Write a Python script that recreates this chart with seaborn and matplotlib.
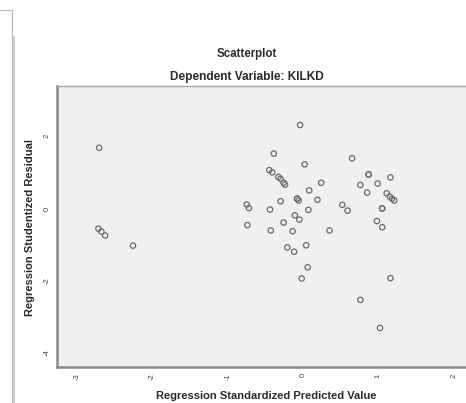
import matplotlib
matplotlib.use("Agg")
import matplotlib.pyplot as plt
import seaborn as sns
import pandas as pd
from matplotlib.lines import Line2D

# --- data ---
pred_left = [-2.71, -2.72, -2.68, -2.63, -2.26]
resid_left = [1.68, -0.56, -0.64, -0.75, -1.03]

pred_mid = [-0.04, -0.39, 0.02, -0.45, -0.41, -0.33, -0.30, -0.26, -0.24, 0.24,
            0.08, -0.08, -0.06, -0.08, -0.30, 0.19, -0.75, -0.72, -0.44, 0.07,
            -0.74, -0.26, -0.11, -0.05, -0.43, -0.14, 0.35, -0.21, -0.12, 0.04,
            0.06, -0.02]
resid_mid = [2.31, 1.52, 1.22, 1.06, 1.00, 0.87, 0.82, 0.71, 0.66, 0.71,
             0.50, 0.27, 0.22, 0.27, 0.20, 0.24, 0.11, 0.01, -0.03, -0.04,
             -0.46, -0.39, -0.19, -0.31, -0.61, -0.63, -0.61, -1.08, -1.20, -1.02,
             -1.63, -1.94]

pred_right = [0.65, 0.87, 0.87, 1.16, 0.76, 0.99, 0.85, 1.11, 1.15, 1.18,
              1.21, 0.52, 0.59, 1.05, 1.05, 0.98, 1.05, 1.16, 0.76, 1.02]
resid_right = [1.39, 0.94, 0.94, 0.86, 0.65, 0.69, 0.44, 0.42, 0.33, 0.27,
               0.22, 0.10, -0.06, 0.00, 0.00, -0.35, -0.52, -1.93, -2.53, -3.31]

x_ticks = [-3, -2, -1, 0, 1, 2]
y_ticks = [-4, -2, 0, 2]

df = pd.DataFrame({
    "pred": pred_left + pred_mid + pred_right,
    "resid": resid_left + resid_mid + resid_right,
})

sns.set_style("white")
plt.rcParams["font.family"] = ["Liberation Sans", "DejaVu Sans"]
plt.rcParams["axes.unicode_minus"] = False

W, H = 466, 403
fig = plt.figure(figsize=(W / 100, H / 100), dpi=100)
fig.patch.set_facecolor("white")

# axes box in pixel coords: left 57, right 468, top 86, bottom 367
ax = fig.add_axes([57 / W, 1 - 367 / H, (468 - 57) / W, (367 - 86) / H])
ax.set_facecolor("#f0f0f0")

sns.scatterplot(data=df, x="pred", y="resid", ax=ax, s=15, marker="o",
                edgecolor="#6a6a6a", linewidth=0.9, legend=False)
for coll in ax.collections:
    coll.set_facecolor("none")

ax.set_xlim(-3.27, 2.19)
ax.set_ylim(-4.39, 3.39)
ax.set_xticks(x_ticks)
ax.set_yticks(y_ticks)
ax.set_xticklabels([str(t) for t in x_ticks], rotation=90)
ax.set_yticklabels([str(t) for t in y_ticks], rotation=90, va="center")
ax.tick_params(axis="both", which="major", direction="out", length=3.5,
               width=0.8, color="#707070", labelsize=5.5, labelcolor="#444444", pad=1)

for side in ["left", "bottom"]:
    ax.spines[side].set_color("#8a8a8a")
    ax.spines[side].set_linewidth(1.8)
ax.spines["top"].set_color("#a8a8a8")
ax.spines["top"].set_linewidth(1.0)
ax.spines["right"].set_visible(False)

ax.set_xlabel("")
ax.set_ylabel("")

fig.text(247 / W, 1 - 54 / H, "Scatterplot", ha="center", va="center",
         fontsize=8.3, fontweight="bold", color="#2a2a2a")
fig.text(247 / W, 1 - 77 / H, "Dependent Variable: KILKD", ha="center", va="center",
         fontsize=8.6, fontweight="bold", color="#2a2a2a")
fig.text(266 / W, 1 - 396 / H, "Regression Standardized Predicted Value",
         ha="center", va="center", fontsize=8, fontweight="bold", color="#2a2a2a")
fig.text(30 / W, 1 - 227 / H, "Regression Studentized Residual", rotation=90,
         ha="center", va="center", fontsize=8, fontweight="bold", color="#2a2a2a")

# frame lines at the left edge of the output viewer
fig.add_artist(Line2D([0, 11.5 / W], [1 - 9.5 / H, 1 - 9.5 / H],
                      transform=fig.transFigure, color="#b4b4b4", lw=0.8))
fig.add_artist(Line2D([11.5 / W, 11.5 / W], [1 - 9.5 / H, 0],
                      transform=fig.transFigure, color="#b4b4b4", lw=0.8))
fig.add_artist(Line2D([13.8 / W, 13.8 / W], [1 - 37 / H, 0],
                      transform=fig.transFigure, color="#cccccc", lw=1.5))

fig.savefig("out.png", dpi=100, facecolor="white")
